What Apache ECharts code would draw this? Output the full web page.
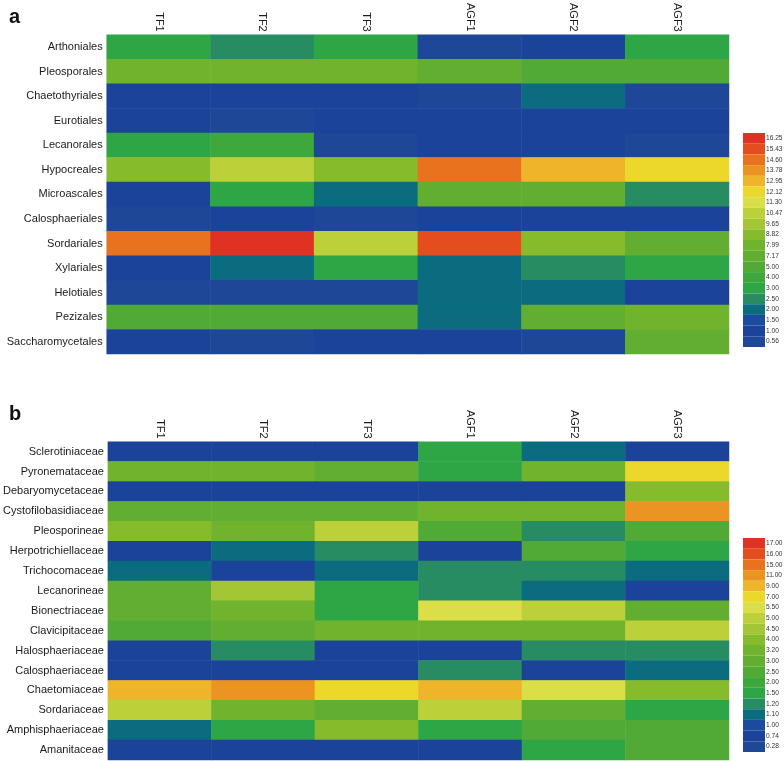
<!DOCTYPE html>
<html>
<head>
<meta charset="utf-8">
<script src="https://cdn.jsdelivr.net/npm/echarts@6/dist/echarts.min.js"></script>
<style>html,body{margin:0;padding:0;background:#fff}#c{width:784px;height:761px}</style>
</head>
<body>
<div id="c"></div>
<script>
const samples = ['TF1', 'TF2', 'TF3', 'AGF1', 'AGF2', 'AGF3'];

const ordersA = ['Arthoniales', 'Pleosporales', 'Chaetothyriales', 'Eurotiales', 'Lecanorales', 'Hypocreales',
  'Microascales', 'Calosphaeriales', 'Sordariales', 'Xylariales', 'Helotiales', 'Pezizales', 'Saccharomycetales'];
const valuesA = [
  [3.5, 2.7, 3.5, 0.8, 1.2, 3.5],
  [8.0, 8.0, 8.0, 7.6, 6.5, 6.5],
  [1.2, 1.2, 1.2, 0.8, 2.2, 0.9],
  [1.2, 0.8, 1.2, 1.2, 1.2, 1.2],
  [3.5, 4.5, 0.8, 1.2, 1.2, 0.8],
  [9.2, 11.0, 9.2, 14.9, 13.3, 12.5],
  [1.2, 3.5, 2.2, 7.6, 7.6, 2.7],
  [0.8, 1.2, 0.8, 1.2, 1.2, 1.2],
  [14.9, 16.6, 10.8, 15.8, 9.2, 7.6],
  [1.2, 2.2, 3.5, 2.2, 2.7, 3.5],
  [0.8, 0.8, 0.8, 2.2, 2.2, 1.2],
  [6.5, 6.5, 6.5, 2.2, 7.6, 8.4],
  [1.2, 0.8, 1.2, 1.2, 0.8, 7.6]
];
const breaksA = ['0.56', '1.00', '1.50', '2.00', '2.50', '3.00', '4.00', '5.00', '7.17', '7.99', '8.82',
  '9.65', '10.47', '11.30', '12.12', '12.95', '13.78', '14.60', '15.43', '16.25'];

const familiesB = ['Sclerotiniaceae', 'Pyronemataceae', 'Debaryomycetaceae', 'Cystofilobasidiaceae', 'Pleosporineae',
  'Herpotrichiellaceae', 'Trichocomaceae', 'Lecanorineae', 'Bionectriaceae', 'Clavicipitaceae', 'Halosphaeriaceae',
  'Calosphaeriaceae', 'Chaetomiaceae', 'Sordariaceae', 'Amphisphaeriaceae', 'Amanitaceae'];
const valuesB = [
  [0.9, 0.9, 0.9, 1.7, 1.15, 0.9],
  [3.6, 3.6, 3.1, 1.7, 3.6, 8.0],
  [0.9, 0.9, 0.9, 0.9, 0.9, 4.2],
  [3.1, 3.1, 3.1, 3.6, 3.6, 13.0],
  [4.2, 3.6, 5.2, 2.7, 1.3, 2.7],
  [0.9, 1.15, 1.3, 0.9, 2.7, 1.7],
  [1.15, 0.9, 1.15, 1.3, 1.3, 1.15],
  [3.1, 4.7, 1.7, 1.3, 1.15, 0.9],
  [3.1, 3.6, 1.7, 6.0, 5.2, 3.1],
  [2.7, 3.1, 3.6, 3.6, 3.6, 5.2],
  [0.9, 1.3, 0.9, 0.9, 1.3, 1.3],
  [0.9, 0.9, 0.9, 1.3, 0.9, 1.15],
  [10.0, 13.0, 8.0, 10.0, 6.0, 4.2],
  [5.2, 3.6, 3.1, 5.2, 3.1, 1.7],
  [1.15, 1.7, 4.2, 1.7, 2.7, 2.7],
  [0.9, 0.9, 0.9, 0.8, 1.7, 2.7]
];
const breaksB = ['0.28', '0.74', '1.00', '1.10', '1.20', '1.50', '2.00', '2.50', '3.00', '3.20', '4.00',
  '4.50', '5.00', '5.50', '7.00', '9.00', '11.00', '15.00', '16.00', '17.00'];

const palette = ['#1e4798', '#1b4399', '#1a4b9f', '#0b6c80', '#288c62', '#2ea646', '#3ea83c', '#52aa36',
  '#62ae30', '#6fb42c', '#86bc2c', '#a2c634', '#bcd03a', '#dadf48', '#ecd82a', '#eeb42a', '#eb9422',
  '#e8721e', '#e44e1e', '#e03222'];

function pieces(breaks) {
  return breaks.map((b, i) => {
    const p = { gte: parseFloat(b), label: b, color: palette[i] };
    if (i < breaks.length - 1) p.lt = parseFloat(breaks[i + 1]);
    return p;
  });
}
function cells(vals) {
  const out = [];
  vals.forEach((row, r) => row.forEach((v, c) => out.push([c, r, v])));
  return out;
}

const font = 'Liberation Sans, Arial, sans-serif';
const chart = echarts.init(document.getElementById('c'));

function xAx(gi) {
  return {
    type: 'category', gridIndex: gi, data: samples, position: 'top',
    axisLine: { show: false }, axisTick: { show: false }, splitLine: { show: false },
    axisLabel: { rotate: 90, margin: 3, fontSize: 11, color: '#1a1a1a', fontFamily: font }
  };
}
function yAx(gi, cats) {
  return {
    type: 'category', gridIndex: gi, data: cats, inverse: true,
    axisLine: { show: false }, axisTick: { show: false }, splitLine: { show: false },
    axisLabel: { margin: 4, fontSize: 11, color: '#1a1a1a', fontFamily: font }
  };
}
function vm(si, breaks, top) {
  return {
    type: 'piecewise', seriesIndex: si, pieces: pieces(breaks), orient: 'vertical', align: 'left',
    left: 743, top: top, padding: 0, itemWidth: 22, itemHeight: 10.7, itemGap: 0,
    itemSymbol: 'rect', textGap: 1, selectedMode: false, hoverLink: false,
    textStyle: { fontSize: 6.6, color: '#333', fontFamily: 'Liberation Sans Narrow, Liberation Sans, Arial, sans-serif' }
  };
}

chart.setOption({
  animation: false,
  title: [
    { text: 'a', left: 4, top: 2, textStyle: { fontSize: 20, fontWeight: 'bold', color: '#111', fontFamily: font } },
    { text: 'b', left: 4, top: 399, textStyle: { fontSize: 20, fontWeight: 'bold', color: '#111', fontFamily: font } }
  ],
  grid: [
    { left: 106.7, right: 55, top: 31.7, height: 322.3 },
    { left: 106.7, right: 55, top: 441.7, height: 318.3 }
  ],
  xAxis: [xAx(0), xAx(1)],
  yAxis: [yAx(0, ordersA), yAx(1, familiesB)],
  visualMap: [vm(0, breaksA, 133), vm(1, breaksB, 538)],
  series: [
    { type: 'heatmap', xAxisIndex: 0, yAxisIndex: 0, data: cells(valuesA), itemStyle: { borderWidth: 0 }, emphasis: { disabled: true } },
    { type: 'heatmap', xAxisIndex: 1, yAxisIndex: 1, data: cells(valuesB), itemStyle: { borderWidth: 0 }, emphasis: { disabled: true } }
  ]
});
</script>
</body>
</html>
